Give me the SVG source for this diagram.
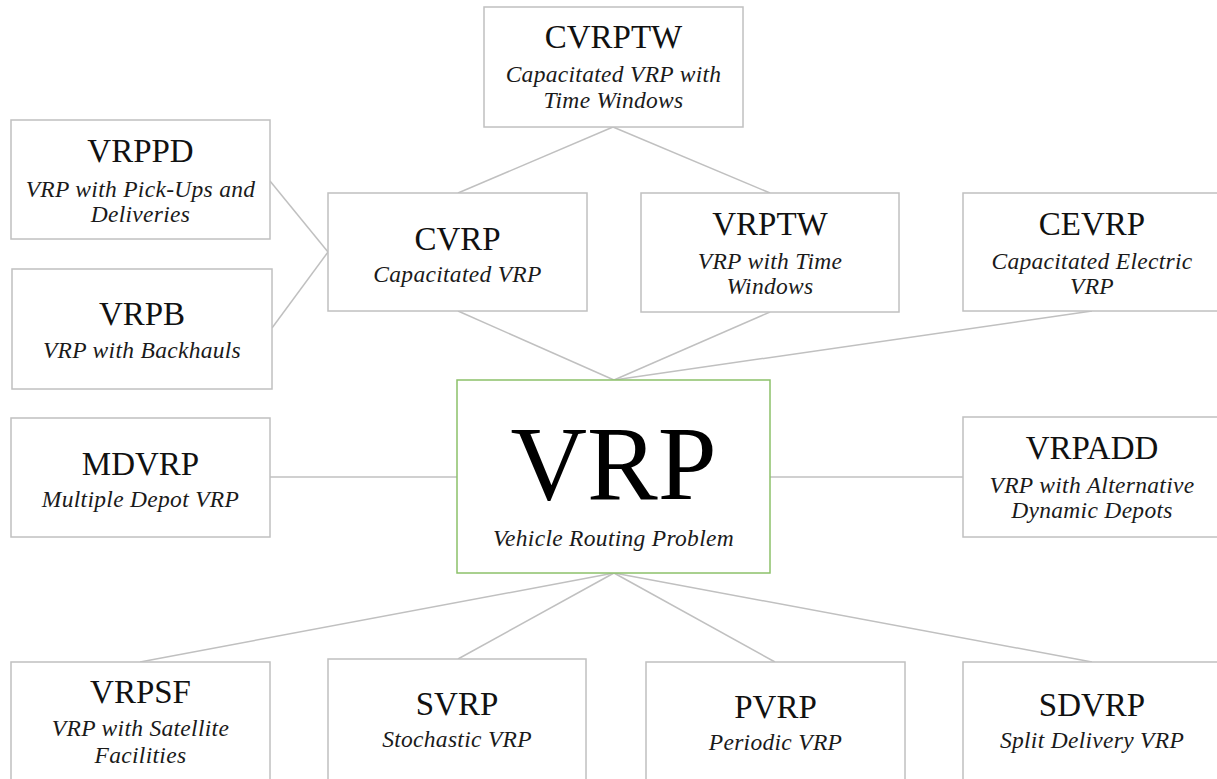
<svg xmlns="http://www.w3.org/2000/svg" width="1217" height="779" viewBox="0 0 1217 779">
<style>
rect.box{fill:#ffffff;stroke:#c0c0c0;stroke-width:1.5}
rect.main{fill:#ffffff;stroke:#8cc16a;stroke-width:1.5}
text{font-family:'Liberation Serif','Times New Roman',Times,serif}
.t{font-size:33px;fill:#111;text-anchor:middle}
.s{font-size:23.5px;font-style:italic;fill:#1a1a1a;text-anchor:middle;letter-spacing:0.3px}
.big{font-size:106px;fill:#000;text-anchor:middle}
#connectors line{stroke:#c0c0c0;stroke-width:1.5}
</style>
<rect width="1217" height="779" fill="#ffffff"/>
<g id="connectors">
<line x1="613" y1="127" x2="458" y2="193"/>
<line x1="613" y1="127" x2="770" y2="193"/>
<line x1="270" y1="181" x2="328" y2="252"/>
<line x1="272" y1="328" x2="328" y2="252"/>
<line x1="458" y1="311" x2="614" y2="380"/>
<line x1="770" y1="312" x2="614" y2="380"/>
<line x1="1092" y1="311" x2="614" y2="380"/>
<line x1="270" y1="477" x2="457" y2="477"/>
<line x1="963" y1="477" x2="770" y2="477"/>
<line x1="614" y1="573" x2="140" y2="662"/>
<line x1="614" y1="573" x2="458" y2="659"/>
<line x1="614" y1="573" x2="775" y2="662"/>
<line x1="614" y1="573" x2="1092" y2="662"/>
</g>
<g id="CVRPTW">
<rect class="box" x="484" y="7" width="259" height="120"/>
<text class="t" x="613.5" y="48" font-family="Liberation Serif, serif">CVRPTW</text>
<text class="s" x="613.5" y="82" font-family="Liberation Serif, serif">Capacitated VRP with</text>
<text class="s" x="613.5" y="108" font-family="Liberation Serif, serif">Time Windows</text>
</g>
<g id="VRPPD">
<rect class="box" x="11" y="120" width="259" height="119"/>
<text class="t" x="140.5" y="162">VRPPD</text>
<text class="s" x="140.5" y="197">VRP with Pick-Ups and</text>
<text class="s" x="140.5" y="222">Deliveries</text>
</g>
<g id="VRPB">
<rect class="box" x="12" y="269" width="260" height="120"/>
<text class="t" x="142" y="325">VRPB</text>
<text class="s" x="142" y="358">VRP with Backhauls</text>
</g>
<g id="CVRP">
<rect class="box" x="328" y="193" width="259" height="118"/>
<text class="t" x="457.5" y="250">CVRP</text>
<text class="s" x="457.5" y="282">Capacitated VRP</text>
</g>
<g id="VRPTW">
<rect class="box" x="641" y="193" width="258" height="119"/>
<text class="t" x="770" y="235">VRPTW</text>
<text class="s" x="770" y="269">VRP with Time</text>
<text class="s" x="770" y="294">Windows</text>
</g>
<g id="CEVRP">
<rect class="box" x="963" y="193" width="259" height="118"/>
<text class="t" x="1092" y="235">CEVRP</text>
<text class="s" x="1092" y="269">Capacitated Electric</text>
<text class="s" x="1092" y="294">VRP</text>
</g>
<g id="MDVRP">
<rect class="box" x="11" y="418" width="259" height="119"/>
<text class="t" x="140.5" y="475">MDVRP</text>
<text class="s" x="140.5" y="507">Multiple Depot VRP</text>
</g>
<g id="VRP">
<rect class="main" x="457" y="380" width="313" height="193"/>
<text class="big" x="613.5" y="499">VRP</text>
<text class="s" x="613.5" y="546">Vehicle Routing Problem</text>
</g>
<g id="VRPADD">
<rect class="box" x="963" y="417" width="259" height="120"/>
<text class="t" x="1092" y="459">VRPADD</text>
<text class="s" x="1092" y="493">VRP with Alternative</text>
<text class="s" x="1092" y="518">Dynamic Depots</text>
</g>
<g id="VRPSF">
<rect class="box" x="11" y="662" width="259" height="130"/>
<text class="t" x="140.5" y="703">VRPSF</text>
<text class="s" x="140.5" y="736">VRP with Satellite</text>
<text class="s" x="140.5" y="763">Facilities</text>
</g>
<g id="SVRP">
<rect class="box" x="328" y="659" width="258" height="130"/>
<text class="t" x="457" y="715">SVRP</text>
<text class="s" x="457" y="747">Stochastic VRP</text>
</g>
<g id="PVRP">
<rect class="box" x="646" y="662" width="259" height="130"/>
<text class="t" x="775.5" y="718">PVRP</text>
<text class="s" x="775.5" y="750">Periodic VRP</text>
</g>
<g id="SDVRP">
<rect class="box" x="963" y="662" width="259" height="130"/>
<text class="t" x="1092" y="716">SDVRP</text>
<text class="s" x="1092" y="748">Split Delivery VRP</text>
</g>
</svg>
